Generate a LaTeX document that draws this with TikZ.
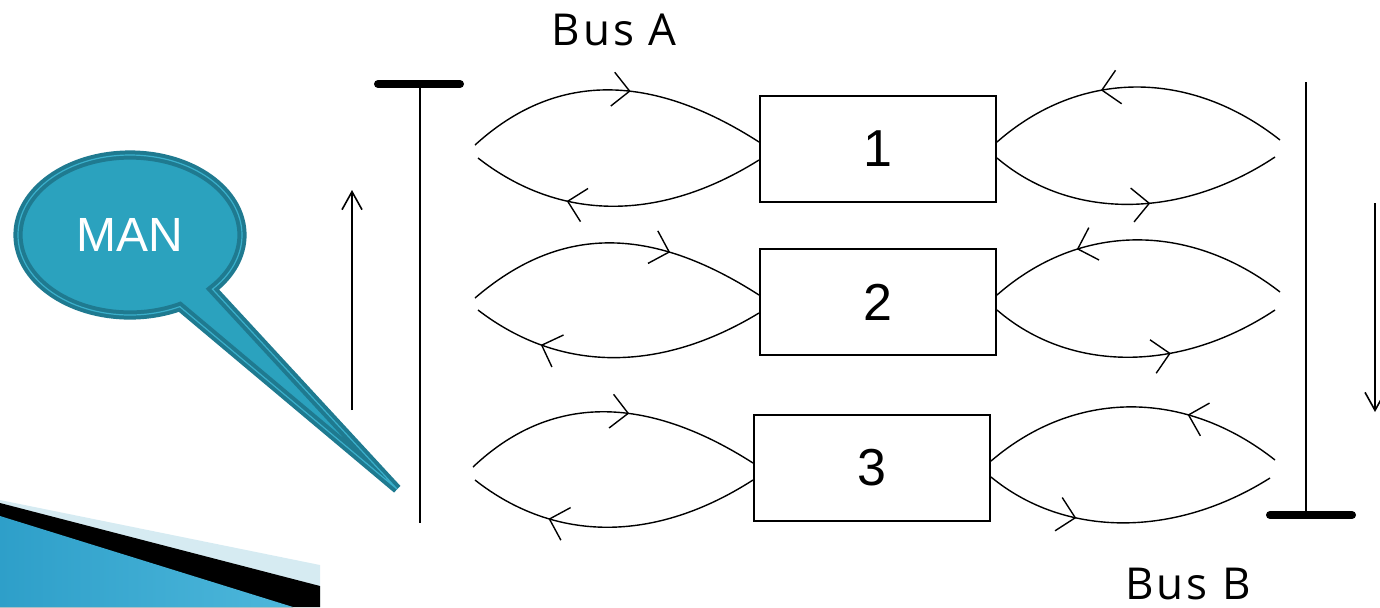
\documentclass[tikz,border=0pt]{standalone}
\usepackage{fontspec}
\setmainfont{Liberation Sans}
\newfontfamily\labelfont[LetterSpace=7]{Open Sans}
\usetikzlibrary{arrows.meta,decorations.markings,shapes.callouts,calc}

\definecolor{calloutfill}{HTML}{2BA2BE}
\definecolor{calloutedge}{HTML}{1F7A90}
\definecolor{calloutline}{HTML}{3AAFCB}
\definecolor{bandlight}{HTML}{D6EBF2}
\definecolor{bandblue}{HTML}{2E9FC9}
\definecolor{bandblue2}{HTML}{4DB7DB}

\begin{document}
\begin{tikzpicture}[x=0.5pt,y=0.5pt,
  unitbox/.style={draw,line width=1pt,minimum width=118pt,minimum height=53pt,
    font=\fontsize{26}{30}\selectfont,inner sep=0pt},
  flowline/.style={line width=0.7pt},
  flowmark/.style={postaction={decorate,decoration={markings,
    mark=at position #1 with {\arrow{Straight Barb[length=8.5pt,width=17pt]}}}}},
  busline/.style={line width=1pt},
  busbar/.style={line width=4pt,line cap=round},
  dirarrow/.style={line width=0.8pt,-{Straight Barb[length=9pt,width=10pt]}},
  buslabel/.style={font=\labelfont\fontsize{22}{26}\selectfont,anchor=base}
]
\useasboundingbox (0,0) rectangle (1380,-607);

% corner band
\fill[bandlight] (0,-500) -- (320,-565) -- (320,-607) -- (0,-607) -- cycle;
\fill[black] (0,-503) -- (320,-586) -- (320,-607) -- (0,-607) -- cycle;
\fill[left color=bandblue,right color=bandblue2] (0,-516) -- (293,-607) -- (0,-607) -- cycle;

% speech callout
\coordinate (tip) at (397,-489);
\node[ellipse callout,fill=calloutfill,draw=calloutedge,line width=2pt,
  double=calloutline,double distance=0.6pt,
  minimum width=112pt,minimum height=80pt,inner sep=0pt,
  callout pointer arc=21,callout absolute pointer={(tip)},
  text=white,font=\fontsize{24}{28}\selectfont] (man) at (130,-235) {MAN};

% buses
\coordinate (busAtop) at (420,-84);
\coordinate (busAbot) at (420,-523);
\coordinate (busBtop) at (1306,-82);
\coordinate (busBbot) at (1306,-515);
\draw[busline] (busAtop) -- (busAbot);
\draw[busbar] (378,-84) -- (460,-84);
\draw[busline] (busBtop) -- (busBbot);
\draw[busbar] (1270,-515) -- (1352,-515);
\node[buslabel] (labA) at (614,-45) {Bus A};
\node[buslabel] (labB) at (1188,-599) {Bus B};

% direction arrows
\coordinate (upS) at (352,-410);
\coordinate (upE) at (352,-190);
\coordinate (dnS) at (1375,-203);
\coordinate (dnE) at (1375,-412);
\draw[dirarrow] (upS) -- (upE);
\draw[dirarrow] (dnS) -- (dnE);

% units
\node[unitbox] (b1) at (878,-148.5) {1};
\node[unitbox] (b2) at (878,-302) {2};
\node[unitbox] (b3) at (872,-468) {3};

% free ends of the links
\coordinate (l1a) at (475,-145); \coordinate (l1b) at (478,-158);
\coordinate (r1a) at (1280,-140); \coordinate (r1b) at (1275,-157);
\coordinate (l2a) at (475,-298); \coordinate (l2b) at (478,-310);
\coordinate (r2a) at (1280,-292); \coordinate (r2b) at (1275,-310);
\coordinate (l3a) at (473,-467); \coordinate (l3b) at (475,-480);
\coordinate (r3a) at (1275,-460); \coordinate (r3b) at (1270,-478);

% unit 1 links
\draw[flowline,flowmark=0.55] (l1a) .. controls (555,-72) and (650,-72) .. ($(b1.west)+(0,6.5)$);
\draw[flowline,flowmark=0.67] ($(b1.west)+(0,-11.5)$) .. controls (660,-222) and (560,-222) .. (l1b);
\draw[flowline,flowmark=0.62] (r1a) .. controls (1190,-69) and (1080,-69) .. ($(b1.east)+(0,6.5)$);
\draw[flowline,flowmark=0.55] ($(b1.east)+(0,-9.5)$) .. controls (1070,-220) and (1180,-220) .. (r1b);

% unit 2 links
\draw[flowline,flowmark=0.68] (l2a) .. controls (560,-225) and (650,-225) .. ($(b2.west)+(0,7)$);
\draw[flowline,flowmark=0.76] ($(b2.west)+(0,-11)$) .. controls (660,-373) and (560,-373) .. (l2b);
\draw[flowline,flowmark=0.70] (r2a) .. controls (1190,-222) and (1080,-222) .. ($(b2.east)+(0,7)$);
\draw[flowline,flowmark=0.62] ($(b2.east)+(0,-8)$) .. controls (1070,-373) and (1180,-373) .. (r2b);

% unit 3 links
\draw[flowline,flowmark=0.56] (l3a) .. controls (550,-394) and (645,-394) .. ($(b3.west)+(0,5)$);
\draw[flowline,flowmark=0.72] ($(b3.west)+(0,-12)$) .. controls (655,-543) and (555,-543) .. (l3b);
\draw[flowline,flowmark=0.32] (r3a) .. controls (1185,-389) and (1075,-389) .. ($(b3.east)+(0,7)$);
\draw[flowline,flowmark=0.32] ($(b3.east)+(0,-9)$) .. controls (1065,-538) and (1175,-538) .. (r3b);
\end{tikzpicture}
\end{document}
